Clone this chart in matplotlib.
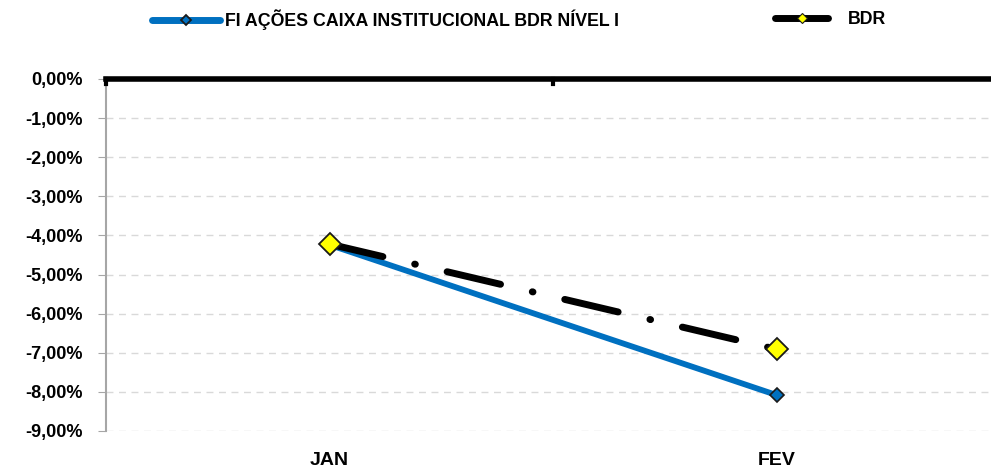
import matplotlib.pyplot as plt
from matplotlib.ticker import FuncFormatter
from matplotlib.lines import Line2D

# dados mensais (%)
meses = ['JAN', 'FEV']
fundo = [-4.24, -8.08]
bdr = [-4.22, -6.91]
nome_fundo = 'FI AÇÕES CAIXA INSTITUCIONAL BDR NÍVEL I'
nome_bdr = 'BDR'

plt.rcParams['font.family'] = ['Liberation Sans', 'DejaVu Sans']
plt.rcParams['font.weight'] = 'bold'

fig = plt.figure(figsize=(9.91, 4.76), dpi=100)
ax = fig.add_axes([106 / 991, 1 - 431 / 476, 894 / 991, 352 / 476])

x = list(range(len(meses)))
ax.plot(x, fundo, color='#0070C0', lw=4.2, solid_capstyle='round', zorder=3,
        marker='D', ms=7, mfc='#0070C0', mec='#1a1a1a', mew=1.2)
ax.plot(x, bdr, color='black', lw=5, dashes=(7.9, 4.7, 0.1, 4.7), dash_capstyle='round',
        zorder=4, marker='D', ms=11.5, mfc='#FFFF00', mec='#1a1a1a', mew=1.3)

ax.set_xlim(-0.5, 1.5)
ax.set_ylim(-9, 0)
ax.set_yticks([-9, -8, -7, -6, -5, -4, -3, -2, -1, 0])
ax.yaxis.set_major_formatter(FuncFormatter(lambda v, p: f'{v:.2f}%'.replace('.', ',')))
ax.grid(axis='y', color='#D9D9D9', ls=(0, (5, 4)), lw=1)
ax.set_axisbelow(True)

ax.set_xticks(x)
ax.set_xticklabels(meses, fontsize=14)
ax.tick_params(axis='x', length=0, pad=15)
ax.tick_params(axis='y', labelsize=13, length=6, color='#A6A6A6', pad=11)

for s in ['right', 'bottom']:
    ax.spines[s].set_visible(False)
ax.spines['left'].set_color('#A6A6A6')
ax.spines['left'].set_linewidth(1.5)
ax.spines['top'].set_color('black')
ax.spines['top'].set_linewidth(4)
# marcas do eixo de categorias no zero
for xb in [-0.5, 0.5]:
    ax.plot([xb, xb], [0, -0.12], color='black', lw=3, clip_on=False, zorder=5)

h1 = Line2D([], [], color='#0070C0', lw=5, solid_capstyle='round',
            marker='D', ms=5.5, mfc='#0070C0', mec='#1a1a1a', mew=1.3)
h2 = Line2D([], [], color='black', lw=5, solid_capstyle='round',
            marker='D', ms=5.5, mfc='#FFFF00', mec='#1a1a1a', mew=0.8)
fig.legend([h1], [nome_fundo], loc='center left', bbox_to_anchor=(152 / 991, 1 - 20 / 476),
           frameon=False, fontsize=12.8, handlelength=3.8, handletextpad=0.3,
           borderpad=0, borderaxespad=0)
fig.legend([h2], [nome_bdr], loc='center left', bbox_to_anchor=(775 / 991, 1 - 20 / 476),
           frameon=False, fontsize=12.8, handlelength=3.0, handletextpad=1.1,
           borderpad=0, borderaxespad=0)

fig.savefig('out.png', dpi=100)
